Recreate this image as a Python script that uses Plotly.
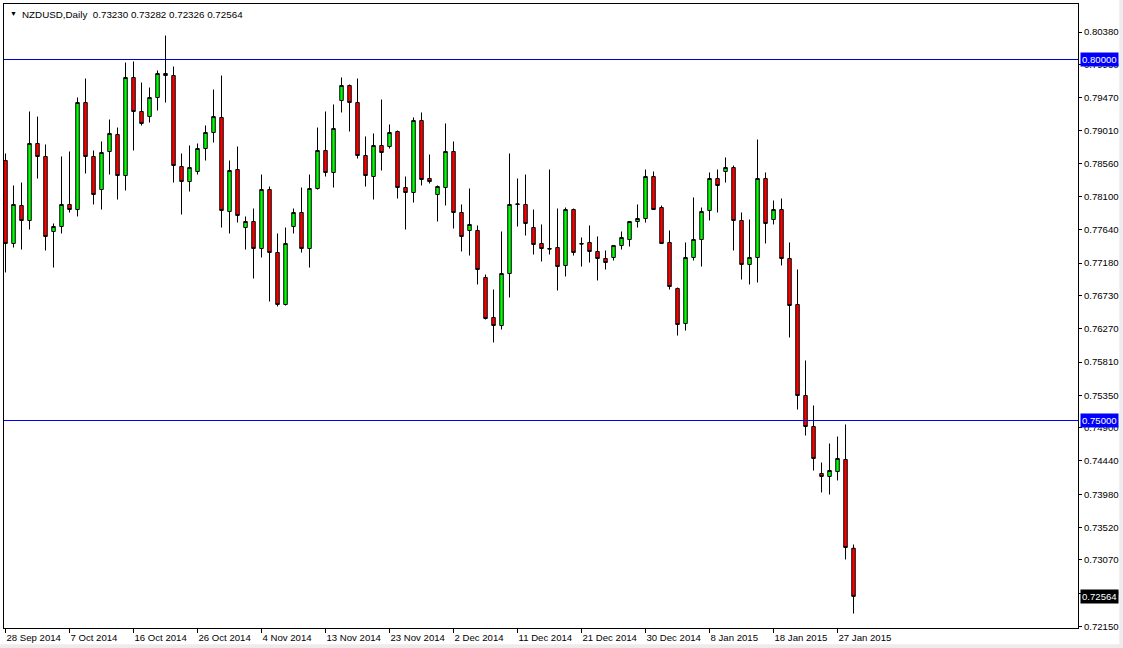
import pandas as pd
import plotly.graph_objects as go

# Daily bars (broker with Sunday sessions: every calendar day except Saturday)
dates = [d.strftime("%Y-%m-%d") for d in pd.date_range("2014-09-28", "2015-01-29", freq="D") if d.weekday() != 5]

open_ = [0.78601, 0.77452, 0.77978, 0.77770, 0.78837, 0.78657, 0.77618, 0.77687, 0.77992, 0.77922,
         0.79404, 0.78657, 0.78199, 0.78726, 0.78961, 0.78393, 0.79751, 0.79280, 0.79210, 0.79474,
         0.79806, 0.79778, 0.78518, 0.78310, 0.78449, 0.78767, 0.78989, 0.79197, 0.77895, 0.78476,
         0.77673, 0.77756, 0.77382, 0.78199, 0.77327, 0.76607, 0.77687, 0.77881, 0.77382, 0.78213,
         0.78740, 0.78435, 0.79432, 0.79640, 0.79404, 0.78670, 0.78380, 0.78809, 0.78795, 0.79003,
         0.78227, 0.78158, 0.79155, 0.78352, 0.78130, 0.78227, 0.78726, 0.77881, 0.77632, 0.77632,
         0.76981, 0.76427, 0.76316, 0.77036, 0.77992, 0.77992, 0.77673, 0.77452, 0.77382, 0.77396,
         0.77147, 0.77922, 0.77452, 0.77466, 0.77341, 0.77244, 0.77258, 0.77424, 0.77507, 0.77756,
         0.77798, 0.78379, 0.77950, 0.77466, 0.76828, 0.76344, 0.77258, 0.77507, 0.77909, 0.78352,
         0.78449, 0.78504, 0.77770, 0.77161, 0.77258, 0.78352, 0.77784, 0.77922, 0.77244, 0.76607,
         0.75346, 0.74917, 0.74266, 0.74225, 0.74294, 0.74460, 0.73230]
high = [0.78698, 0.78255, 0.78296, 0.79280, 0.79210, 0.78823, 0.77729, 0.78657, 0.78726, 0.79474,
        0.79737, 0.78740, 0.78864, 0.79169, 0.79058, 0.79958, 0.79972, 0.79681, 0.79612, 0.79848,
        0.80332, 0.79903, 0.78698, 0.78809, 0.78837, 0.79086, 0.79584, 0.79778, 0.78601, 0.78795,
        0.77826, 0.77936, 0.78407, 0.78241, 0.77590, 0.77673, 0.77936, 0.78227, 0.78407, 0.79058,
        0.79280, 0.79377, 0.79751, 0.79654, 0.79737, 0.78934, 0.78975, 0.79446, 0.79100, 0.79017,
        0.78379, 0.79197, 0.79266, 0.78684, 0.78255, 0.79114, 0.78864, 0.77992, 0.78213, 0.77701,
        0.77022, 0.76814, 0.77618, 0.78698, 0.78352, 0.78407, 0.77922, 0.77715, 0.78476, 0.77936,
        0.77950, 0.77936, 0.77535, 0.77701, 0.77549, 0.77355, 0.77424, 0.77618, 0.77756, 0.77992,
        0.78476, 0.78449, 0.77978, 0.77632, 0.76842, 0.77466, 0.78089, 0.77950, 0.78435, 0.78476,
        0.78643, 0.78532, 0.77881, 0.77784, 0.78892, 0.78435, 0.78047, 0.78075, 0.77466, 0.77091,
        0.75831, 0.75208, 0.74418, 0.74681, 0.74778, 0.74945, 0.73282]
low = [0.77050, 0.77396, 0.77368, 0.77645, 0.78352, 0.77355, 0.77119, 0.77590, 0.77881, 0.77826,
       0.78421, 0.77992, 0.77922, 0.78407, 0.78061, 0.78186, 0.78740, 0.79086, 0.79128, 0.79294,
       0.79404, 0.78296, 0.77853, 0.78172, 0.78407, 0.78601, 0.78850, 0.77673, 0.77590, 0.77743,
       0.77368, 0.76967, 0.77258, 0.76648, 0.76579, 0.76593, 0.77590, 0.77327, 0.77119, 0.78199,
       0.78379, 0.78227, 0.79266, 0.79003, 0.78629, 0.78241, 0.78061, 0.78463, 0.78767, 0.78075,
       0.77645, 0.78019, 0.78255, 0.78283, 0.77756, 0.77978, 0.77659, 0.77341, 0.77285, 0.76884,
       0.76399, 0.76081, 0.76260, 0.76704, 0.77687, 0.77562, 0.77299, 0.77202, 0.77299, 0.76801,
       0.76995, 0.77285, 0.77133, 0.77188, 0.76939, 0.77091, 0.77216, 0.77368, 0.77410, 0.77673,
       0.77742, 0.77922, 0.77452, 0.76814, 0.76177, 0.76246, 0.77216, 0.77133, 0.77770, 0.77881,
       0.78296, 0.77355, 0.76953, 0.76884, 0.76912, 0.77452, 0.77715, 0.77147, 0.76150, 0.75152,
       0.74792, 0.74307, 0.74003, 0.73975, 0.74169, 0.73075, 0.72326]
close = [0.77452, 0.77992, 0.77770, 0.78837, 0.78657, 0.77549, 0.77687, 0.77992, 0.77922, 0.79404,
         0.78657, 0.78130, 0.78712, 0.78976, 0.78393, 0.79751, 0.79280, 0.79114, 0.79474, 0.79806,
         0.79778, 0.78532, 0.78310, 0.78504, 0.78767, 0.78989, 0.79210, 0.77909, 0.78463, 0.77840,
         0.77756, 0.77382, 0.78199, 0.77327, 0.76607, 0.77452, 0.77881, 0.77382, 0.78213, 0.78740,
         0.78435, 0.79044, 0.79640, 0.79404, 0.78670, 0.78393, 0.78809, 0.78712, 0.78989, 0.78227,
         0.78158, 0.79155, 0.78338, 0.78310, 0.78241, 0.78726, 0.77881, 0.77549, 0.77715, 0.77091,
         0.76413, 0.76316, 0.77036, 0.77992, 0.77999, 0.77729, 0.77438, 0.77382, 0.77375, 0.77133,
         0.77922, 0.77327, 0.77445, 0.77341, 0.77244, 0.77188, 0.77424, 0.77535, 0.77756, 0.77798,
         0.78379, 0.77922, 0.77452, 0.76856, 0.76330, 0.77258, 0.77507, 0.77895, 0.78352, 0.78255,
         0.78504, 0.77770, 0.77161, 0.77258, 0.78352, 0.77729, 0.77922, 0.77244, 0.76593, 0.75346,
         0.74917, 0.74474, 0.74225, 0.74308, 0.74474, 0.73241, 0.72564]

x_tick_labels = ["28 Sep 2014", "7 Oct 2014", "16 Oct 2014", "26 Oct 2014", "4 Nov 2014",
                 "13 Nov 2014", "23 Nov 2014", "2 Dec 2014", "11 Dec 2014", "21 Dec 2014",
                 "30 Dec 2014", "8 Jan 2015", "18 Jan 2015", "27 Jan 2015"]
x_tick_dates = dates[0::8][:len(x_tick_labels)]

y_tick_values = [0.80380, 0.79930, 0.79470, 0.79010, 0.78560, 0.78100, 0.77640, 0.77180, 0.76730,
                 0.76270, 0.75810, 0.75350, 0.74900, 0.74440, 0.73980, 0.73520, 0.73070, 0.72610, 0.72150]

level_lines = [0.80000, 0.75000]
level_colors = ["#0000CD", "#0000FF"]
last_price = 0.72564
title_text = "NZDUSD,Daily\u00a0\u00a00.73230 0.73282 0.72326 0.72564"

FONT = "Liberation Sans, Arial, sans-serif"

fig = go.Figure(go.Candlestick(
    x=dates, open=open_, high=high, low=low, close=close,
    increasing=dict(line=dict(color="black", width=1), fillcolor="#00FF00"),
    decreasing=dict(line=dict(color="black", width=1), fillcolor="#FF0000"),
    whiskerwidth=0, showlegend=False,
))

shapes = []
for lv, col in zip(level_lines, level_colors):
    shapes.append(dict(type="line", xref="paper", x0=0, x1=1, yref="y", y0=lv, y1=lv,
                       line=dict(color=col, width=1), layer="above"))
# window frame strips (light gray)
shapes.append(dict(type="rect", xref="paper", yref="paper", x0=-0.01, x1=1.05, y0=-0.045, y1=-0.026,
                   fillcolor="#ECECEC", line=dict(width=0), layer="below"))
shapes.append(dict(type="rect", xref="paper", yref="paper", x0=1.0385, x1=1.05, y0=-0.05, y1=1.01,
                   fillcolor="#ECECEC", line=dict(width=0), layer="below"))

annotations = [
    dict(xref="paper", yref="paper", x=0, y=1, xshift=4, yshift=-4, xanchor="left", yanchor="top",
         text="\u25bc", showarrow=False, font=dict(family=FONT, size=7, color="black")),
    dict(xref="paper", yref="paper", x=0, y=1, xshift=16, yshift=-3, xanchor="left", yanchor="top",
         text=title_text, showarrow=False, font=dict(family=FONT, size=9.8, color="black")),
]
for lv, col in zip(level_lines, level_colors):
    annotations.append(dict(xref="paper", yref="y", x=1, y=lv, xanchor="left", yanchor="middle",
                            xshift=2, text=f"{lv:.5f}", showarrow=False, bgcolor="#0000FF",
                            borderpad=1, font=dict(family=FONT, size=9.6, color="white")))
annotations.append(dict(xref="paper", yref="y", x=1, y=last_price, xanchor="left", yanchor="middle",
                        xshift=2, text=f"{last_price:.5f}", showarrow=False, bgcolor="black",
                        borderpad=1, font=dict(family=FONT, size=9.6, color="white")))

fig.update_layout(
    width=1123, height=648,
    margin=dict(l=4, r=45, t=4, b=20, autoexpand=False),
    paper_bgcolor="white", plot_bgcolor="white",
    font=dict(family=FONT, size=9.6, color="black"),
    boxgap=0.38,
    shapes=shapes, annotations=annotations,
    xaxis=dict(type="category", range=[-0.1875, 134.06], rangeslider=dict(visible=False),
               tickmode="array", tickvals=x_tick_dates, ticktext=x_tick_labels, tickangle=0,
               ticks="outside", ticklen=4, tickcolor="black", ticklabelposition="outside right",
               showgrid=False, showline=True, linecolor="black", linewidth=1, mirror=True,
               zeroline=False, automargin=False, tickfont=dict(family=FONT, size=9.6, color="black")),
    yaxis=dict(side="right", range=[0.721259, 0.807689], tickmode="array", tickvals=y_tick_values,
               ticktext=[f"{v:.5f}" for v in y_tick_values], ticks="outside", ticklen=3,
               tickcolor="black", showgrid=False, showline=True, linecolor="black", linewidth=1,
               mirror=True, zeroline=False, automargin=False,
               tickfont=dict(family=FONT, size=9.6, color="black")),
)

fig.write_html("out.html", post_script="document.body.style.margin='0px';",
               config={"displayModeBar": False})
